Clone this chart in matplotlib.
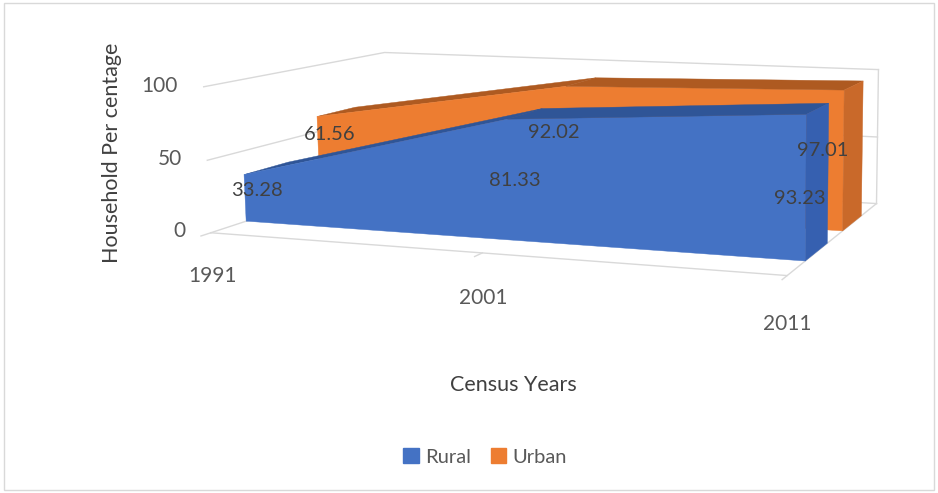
import matplotlib.pyplot as plt
import numpy as np
from matplotlib.patches import Patch, Rectangle
from mpl_toolkits.mplot3d.art3d import Poly3DCollection

plt.rcParams['font.family'] = ['Lato', 'DejaVu Sans']

years = ['1991', '2001', '2011']
rural = [33.28, 81.33, 93.23]
urban = [61.56, 92.02, 97.01]
series_names = ['Rural', 'Urban']
y_ticks = [0, 50, 100]

# where each data label sits, as a share of its value (Excel puts them inside)
label_frac = {'Rural': [0.68, 0.5, 0.43], 'Urban': [0.78, 0.63, 0.57]}
label_dx = {'Rural': [0.05, 0.02, -0.02], 'Urban': [0.05, -0.05, -0.07]}

# front, top, side colours for each series
colors = {
    'Rural': ('#4472C4', '#2F5597', '#3660B0'),
    'Urban': ('#ED7D31', '#AE5A21', '#C9692A'),
}
grid_c = '#D9D9D9'
text_c = '#595959'

fig = plt.figure(figsize=(9.38, 4.93), dpi=100)
ax = fig.add_axes([-0.289, -0.375, 2.09, 2.09], projection='3d')
ax.set_proj_type('persp', focal_length=0.3)
ax.view_init(elev=9, azim=-72)
ax.computed_zorder = False
ax.set_axis_off()

x = np.arange(len(years))
xmax = x[-1]
D = 1.75
depth = 0.4
pos = {'Rural': 0.3, 'Urban': 1.0}

# walls and floor
for t in y_ticks:
    ax.plot([0, 0, xmax], [0, D, D], [t, t, t], color=grid_c, lw=1, zorder=0)
ax.plot([0, xmax, xmax], [0, 0, D], [0, 0, 0], color=grid_c, lw=1, zorder=0)
ax.plot([xmax, xmax], [D, D], [0, y_ticks[-1]], color=grid_c, lw=1, zorder=0)
for k in x:
    ax.plot([k, k], [0, -0.08], [0, 0], color=grid_c, lw=1, zorder=0)
    ax.text(k, 0, -30, years[k], fontsize=15, color=text_c, ha='center', va='center')
for t in y_ticks:
    ax.text(-0.1, 0, t, str(t), fontsize=15, color=text_c, ha='right', va='center')


def area3d(vals, name, zo):
    front, top, side = colors[name]
    y0 = pos[name]
    y1 = y0 + depth
    polys, cols = [], []
    for k in range(len(x) - 1):
        polys.append([(x[k], y0, vals[k]), (x[k + 1], y0, vals[k + 1]),
                      (x[k + 1], y1, vals[k + 1]), (x[k], y1, vals[k])])
        cols.append(top)
    polys.append([(x[-1], y0, 0), (x[-1], y0, vals[-1]),
                  (x[-1], y1, vals[-1]), (x[-1], y1, 0)])
    cols.append(side)
    face = [(x[0], y0, 0)] + [(x[k], y0, vals[k]) for k in range(len(x))] + [(x[-1], y0, 0)]
    polys.append(face)
    cols.append(front)
    pc = Poly3DCollection(polys, facecolors=cols, edgecolors=cols, linewidths=0.3)
    pc.set_zorder(zo)
    ax.add_collection3d(pc)


area3d(urban, 'Urban', 1)
area3d(rural, 'Rural', 2)

# data labels
for name, vals in (('Urban', urban), ('Rural', rural)):
    for k in range(len(x)):
        ax.text(x[k] + label_dx[name][k], pos[name], vals[k] * label_frac[name][k],
                f'{vals[k]:.2f}', fontsize=14.5, color='#404040',
                ha='center', va='center', zorder=5)

ax.set_xlim(0, 3.2)
ax.set_ylim(-0.2, 2.0)
ax.set_zlim(0, 110)
ax.set_box_aspect((3.2, 1.5, 0.54))

fig.text(0.119, 0.69, 'Household Per centage', rotation=90, fontsize=15.5,
         color='#404040', ha='center', va='center')
fig.text(0.547, 0.219, 'Census Years', fontsize=15.5, color='#404040',
         ha='center', va='center')

handles = [Patch(color=colors[n][0]) for n in series_names]
fig.legend(handles, series_names, loc='center', bbox_to_anchor=(0.517, 0.073),
           ncol=2, frameon=False, fontsize=14.5, handlelength=0.75, handleheight=0.75,
           columnspacing=1.0, handletextpad=0.3, labelcolor='#595959')

fig.patches.append(Rectangle((0.004, 0.006), 0.992, 0.988, transform=fig.transFigure,
                             fill=False, edgecolor=grid_c, linewidth=1))

fig.savefig('out.png', dpi=100)
